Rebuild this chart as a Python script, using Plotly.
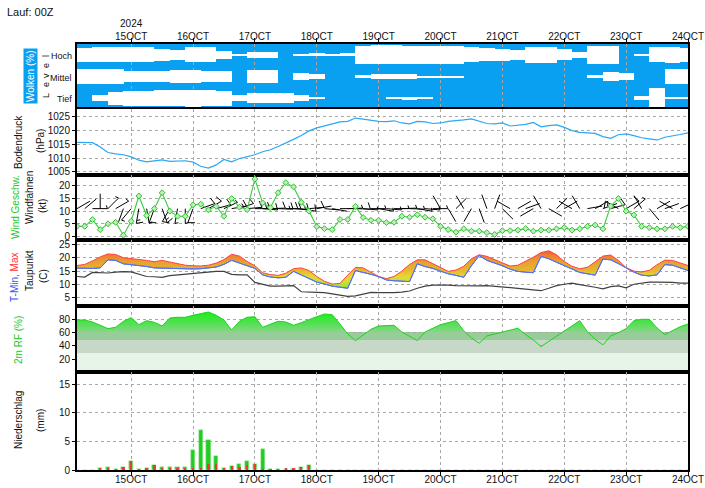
import numpy as np
import pandas as pd
import plotly.graph_objects as go
from plotly.subplots import make_subplots

# ---------------- data ----------------
start = pd.Timestamp("2024-10-14 03:00")
end = pd.Timestamp("2024-10-24 00:00")
times = pd.date_range(start, periods=80, freq="3h")
cloud_times = pd.date_range(start + pd.Timedelta(hours=3), periods=40, freq="6h")

day_ticks = pd.date_range("2024-10-15", "2024-10-24", freq="D")
day_labels = ["15OCT", "16OCT", "17OCT", "18OCT", "19OCT", "20OCT", "21OCT", "22OCT", "23OCT", "24OCT"]
year_label = "2024"

# cloud cover (%) per level, 6-hourly
cloud_high = [35, 30, 30, 30, 30, 45, 55, 30, 30, 60,
              97, 75, 70, 100, 90, 85, 88, 85, 15, 12,
              12, 15, 15, 18, 20, 30, 40, 45, 55, 25,
              25, 50, 75, 15, 20, 100, 90, 30, 25, 35]
cloud_mid = [30, 30, 35, 45, 50, 50, 40, 40, 45, 50,
             100, 40, 40, 100, 65, 75, 100, 100, 90, 75,
             75, 80, 95, 95, 95, 100, 100, 100, 100, 100,
             100, 100, 100, 85, 60, 65, 100, 100, 35, 35]
cloud_low = [100, 75, 40, 30, 30, 25, 25, 20, 25, 30,
             70, 55, 55, 55, 70, 90, 100, 100, 100, 100,
             96, 92, 93, 100, 100, 100, 100, 100, 100, 100,
             100, 100, 100, 100, 100, 100, 80, 10, 90, 90]

pressure = [1015.7, 1015.7, 1015.6, 1014.0, 1012.0, 1011.5, 1011.2, 1010.4, 1009.2, 1008.6,
            1009.0, 1009.3, 1008.8, 1009.0, 1009.0, 1008.5, 1007.0, 1006.3, 1007.5, 1009.5,
            1008.6, 1009.8, 1010.5, 1011.2, 1012.3, 1013.0, 1014.2, 1015.4, 1016.8, 1018.2,
            1019.9, 1021.0, 1021.8, 1022.5, 1023.2, 1023.4, 1024.6, 1024.2, 1023.8, 1023.4,
            1023.3, 1023.6, 1022.8, 1022.5, 1023.4, 1023.2, 1022.6, 1022.8, 1023.4, 1023.6,
            1023.9, 1024.3, 1023.5, 1022.6, 1022.5, 1022.8, 1021.7, 1021.9, 1022.3, 1023.0,
            1021.4, 1021.8, 1022.1, 1021.2, 1020.0, 1019.4, 1019.2, 1019.0, 1017.8, 1017.2,
            1018.5, 1018.8, 1018.2, 1017.4, 1017.0, 1016.6, 1017.6, 1018.0, 1018.6, 1019.2]

wind_speed = [4, 4, 6.7, 2.7, 5, 5.6, 0.5, 6, 16, 8.3,
              11, 17.3, 10, 8, 8, 12.5, 12.8, 10.5, 11.9, 8,
              15, 11.6, 10.6, 22.7, 13.3, 11.4, 17.3, 21.3, 19.6, 13.5,
              10, 3.9, 3.1, 2.7, 6.7, 6.7, 11.9, 7.5, 6.4, 6.4,
              5.5, 5.6, 8, 7.6, 8.6, 7.6, 7, 4, 2.7, 1.7,
              3, 2.1, 2.1, 1.5, 0.8, 2.3, 2.3, 2.5, 3.1, 2.1,
              2.5, 2.5, 3, 3.5, 2.5, 3, 4, 4.5, 3, 12,
              15, 10, 8.5, 4, 3.5, 3, 3, 4, 3.5, 4]

wind_dir = [60, 50, 90, 0, 45, 60, 200,
            220, 190, 170, 200, 160, 210, 190, 180,
            200, 70, 60, 75, 65, 80, 70, 85,
            90, 95, 88, 92, 90, 95, 100, 85, 80, 95, 100, 90,
            88, 92, 95, 90, 100, 95, 90, 88, 92, 100, 95, 90,
            330, 150, 45, 330, 210, 160, 340, 20, 135, 300,
            60, 70, 240, 330, 120, 45, 60, 300, 330, 80,
            60, 70, 75, 300, 60, 50, 330, 140, 60, 70,
            300, 65, 70]

t_max = [17.1, 17.5, 18.8, 20.3, 21.4, 21.2, 20.0, 19.7, 19.3, 19.0,
         18.5, 19.0, 18.4, 17.9, 17.2, 17.0, 16.9, 17.2, 18.0, 19.3,
         21.3, 20.6, 18.6, 17.0, 14.4, 13.7, 13.4, 14.2, 15.9, 16.2,
         15.2, 13.0, 11.2, 10.2, 10.4, 13.5, 16.4, 16.2, 14.5, 13.0,
         12.2, 13.0, 15.0, 17.5, 19.2, 19.2, 17.8, 16.5, 14.9, 15.4,
         16.8, 19.6, 21.1, 20.5, 19.2, 18.0, 16.9, 17.2, 18.6, 20.2,
         21.9, 22.6, 21.1, 18.6, 16.8, 15.9, 16.4, 18.5, 20.6, 21.0,
         19.0, 16.3, 15.0, 14.7, 15.3, 17.4, 19.1, 19.0, 18.1, 17.1]

t_min = [16.1, 16.0, 16.0, 16.2, 19.2, 19.0, 17.7, 17.4, 17.1, 16.7,
         16.2, 16.1, 16.1, 16.0, 15.9, 15.8, 15.9, 16.1, 16.5, 17.5,
         19.0, 18.0, 16.9, 16.0, 13.6, 12.8, 12.5, 12.7, 14.9, 13.5,
         12.0, 10.9, 10.2, 9.4, 9.0, 8.6, 15.2, 14.6, 13.8, 13.0,
         11.7, 11.4, 11.2, 11.1, 17.7, 16.7, 16.0, 15.0, 14.0, 13.4,
         12.7, 17.0, 20.8, 19.0, 18.0, 17.0, 15.7, 14.9, 14.6, 14.4,
         20.5, 19.6, 18.3, 16.9, 15.8, 14.5, 13.9, 13.5, 19.5, 19.2,
         17.8, 16.2, 14.6, 13.5, 13.2, 13.6, 17.4, 17.2, 16.2, 15.2]

dewpoint = [13.0, 12.8, 14.5, 14.3, 14.3, 14.6, 14.8, 14.7, 13.8, 13.0,
            12.9, 12.7, 13.3, 13.6, 13.9, 14.2, 14.5, 14.8, 14.9, 14.9,
            13.8, 13.6, 13.6, 10.8, 10.0, 9.4, 9.4, 9.4, 9.6, 7.3,
            7.1, 7.1, 7.0, 6.6, 6.1, 5.6, 5.8, 6.5, 7.1, 7.0,
            6.9, 7.0, 7.2, 7.6, 8.6, 9.4, 9.8, 9.9, 9.8, 9.6,
            9.5, 9.4, 9.5, 9.6, 9.4, 9.1, 8.9, 8.6, 8.3, 8.0,
            7.7, 8.6, 9.6, 10.1, 10.5, 10.0, 9.6, 9.0, 8.4, 9.2,
            9.5, 8.8, 10.1, 10.5, 10.9, 10.9, 10.9, 10.8, 10.5, 10.5]

rel_hum = [79, 79, 76, 71, 66, 68, 77, 82.5, 72, 78,
           75.5, 70, 82, 83, 83, 86, 88, 91, 86, 79,
           64, 77, 83, 84, 68, 73, 77, 76, 71, 75,
           80, 84, 88, 87, 73, 58, 48, 57, 65, 70,
           71, 71, 61, 54, 48, 61, 67, 72, 75, 78,
           63, 52, 44, 55, 58, 61, 64, 66.6, 57, 49,
           39, 47, 55, 63, 71, 78, 61, 50, 41.5, 55,
           60, 66, 78, 80, 80, 67, 57, 63, 69, 73]

precip_total = [0, 0, 0, 0.4, 0.5, 0.15, 0.6, 1.6, 0.1, 0.3,
                0.9, 0.5, 0.5, 0.6, 0.5, 3.5, 7.0, 5.3, 2.5, 0.4,
                0.7, 1.0, 1.5, 1.0, 3.6, 0.1, 0.1, 0.2, 0.2, 0.5,
                0.8, 0, 0, 0, 0, 0, 0, 0, 0, 0,
                0, 0, 0, 0, 0, 0, 0, 0, 0, 0,
                0, 0, 0, 0, 0, 0, 0, 0, 0, 0,
                0, 0, 0, 0, 0, 0, 0, 0, 0, 0,
                0, 0, 0, 0, 0, 0, 0, 0, 0, 0]
precip_conv = [0, 0, 0, 0.4, 0.3, 0.1, 0.6, 1.5, 0.1, 0.3,
               0.9, 0.3, 0.3, 0.3, 0.3, 0.2, 0.3, 1.1, 1.1, 0.4,
               0.7, 0.6, 0.9, 1.0, 0.1, 0.1, 0.1, 0.2, 0.2, 0.5,
               0.8, 0, 0, 0, 0, 0, 0, 0, 0, 0,
               0, 0, 0, 0, 0, 0, 0, 0, 0, 0,
               0, 0, 0, 0, 0, 0, 0, 0, 0, 0,
               0, 0, 0, 0, 0, 0, 0, 0, 0, 0,
               0, 0, 0, 0, 0, 0, 0, 0, 0, 0]

# ---------------- styling ----------------
FONT = "Liberation Sans"
CLOUD_BLUE = "#0aa0f2"
GRID = "#a8a8a8"
GREEN = "#22c822"

fig = make_subplots(rows=6, cols=1, shared_xaxes=True, vertical_spacing=0,
                    row_heights=[65, 66, 65, 66, 66, 98])

# ---- clouds ----
fig.add_shape(type="rect", xref="x domain", yref="y domain", x0=0, x1=1, y0=0, y1=1,
              fillcolor=CLOUD_BLUE, line_width=0, layer="below", row=1, col=1)
for k, cc in enumerate([cloud_low, cloud_mid, cloud_high]):
    clear = [(100 - c) / 100.0 for c in cc]
    base = [k + 0.5 - c / 2 for c in clear]
    fig.add_trace(go.Bar(x=cloud_times, y=clear, base=base, width=6.1 * 3600 * 1000,
                         marker=dict(color="white", line_width=0), hoverinfo="skip"),
                  row=1, col=1)

# ---- pressure ----
fig.add_trace(go.Scatter(x=times, y=pressure, mode="lines",
                         line=dict(color="#2aa8f5", width=1.2)), row=2, col=1)

# ---- wind barbs ----
PX_PER_H = 611.0 / 237.0
PX_PER_KT = 65.0 / 25.6
BARB_Y = 11.0


def barb(t, spd, ddeg):
    L, F, S = 15.0, 7.0, 3.0
    th = np.radians(ddeg)
    ux, uy = np.sin(th), np.cos(th)
    a = np.radians(110)
    fx = ux * np.cos(a) - uy * np.sin(a)
    fy = ux * np.sin(a) + uy * np.cos(a)
    segs = [((0.0, 0.0), (ux * L, uy * L))]
    pos = L
    n10 = int(spd // 10)
    n5 = int((spd - n10 * 10) // 5)
    for _ in range(n10):
        bx, by = ux * pos, uy * pos
        segs.append(((bx, by), (bx + fx * F, by + fy * F)))
        pos -= S
    for _ in range(n5):
        bx, by = ux * pos, uy * pos
        segs.append(((bx, by), (bx + fx * F / 2, by + fy * F / 2)))
        pos -= S
    xs, ys = [], []
    for seg in segs:
        for (px_, py_) in seg:
            xs.append(t + pd.Timedelta(hours=px_ / PX_PER_H))
            ys.append(BARB_Y + py_ / PX_PER_KT)
        xs.append(None)
        ys.append(None)
    return xs, ys


bx_all, by_all = [], []
for t, s, d in zip(times, wind_speed, wind_dir):
    xs, ys = barb(t, s, d)
    bx_all += xs
    by_all += ys
fig.add_trace(go.Scatter(x=bx_all, y=by_all, mode="lines",
                         line=dict(color="black", width=1), hoverinfo="skip"), row=3, col=1)
fig.add_trace(go.Scatter(x=times, y=wind_speed, mode="lines+markers",
                         line=dict(color="#3ccc3c", width=1.1),
                         marker=dict(symbol="diamond", size=4.5, color="#b8f0b8",
                                     line=dict(color="#30c030", width=1))), row=3, col=1)

# ---- temperature ----
fig.add_trace(go.Scatter(x=times, y=t_min, mode="lines",
                         line=dict(color="#5070ff", width=1)), row=4, col=1)
fig.add_trace(go.Scatter(x=times, y=t_max, mode="lines", fill="tonexty",
                         fillgradient=dict(type="vertical", start=8, stop=23,
                                           colorscale=[[0.0, "#80e040"], [0.18, "#c8e030"],
                                                       [0.33, "#e6d830"], [0.5, "#e8b430"],
                                                       [0.7, "#e8a030"], [0.85, "#ee8030"],
                                                       [1.0, "#f05030"]]),
                         line=dict(color="#ff4040", width=1)), row=4, col=1)
fig.add_trace(go.Scatter(x=times, y=t_min, mode="lines",
                         line=dict(color="#5070ff", width=1)), row=4, col=1)
fig.add_trace(go.Scatter(x=times, y=dewpoint, mode="lines",
                         line=dict(color="#404040", width=1.2)), row=4, col=1)

# ---- relative humidity ----
for y0, y1, c in [(0, 29, "#e8f4e8"), (29, 49, "#c8d8c8"), (49, 61, "#98cc98")]:
    fig.add_shape(type="rect", xref="x5 domain", yref="y5", x0=0, x1=1, y0=y0, y1=y1,
                  fillcolor=c, line_width=0, layer="below")
fig.add_trace(go.Scatter(x=times, y=rel_hum, mode="lines", fill="tozeroy",
                         fillgradient=dict(type="vertical", start=0, stop=100,
                                           colorscale=[[0.0, "#e8f4e8"], [0.29, "#e8f4e8"],
                                                       [0.2901, "#c8d8c8"], [0.49, "#c8d8c8"],
                                                       [0.4901, "#98cc98"], [0.61, "#98cc98"],
                                                       [0.6101, "#84d884"], [0.75, "#50e050"],
                                                       [0.9, "#18f018"], [1.0, "#00ff00"]]),
                         line=dict(color="#20d020", width=1)), row=5, col=1)

# ---- precipitation ----
fig.add_trace(go.Bar(x=times, y=precip_total, width=1.6 * 3600 * 1000,
                     marker=dict(color="#22cc22", line=dict(color="#a8e8a8", width=0.5))),
              row=6, col=1)
fig.add_trace(go.Bar(x=times, y=precip_conv, width=0.9 * 3600 * 1000,
                     marker=dict(color="#f03a30", line_width=0)), row=6, col=1)

# ---------------- axes ----------------
tick_font = dict(family=FONT, size=10, color="#111111")
for r in range(1, 7):
    fig.update_xaxes(range=[start, end], tickvals=day_ticks, ticktext=day_labels,
                     showgrid=True, gridcolor=GRID, griddash="dot", gridwidth=1,
                     showline=True, linecolor="black", linewidth=2, mirror=True,
                     ticks="", showticklabels=False, tickfont=tick_font,
                     automargin=False, row=r, col=1)
top_labels = [year_label + "<br>" + day_labels[0]] + day_labels[1:]
bot_labels = [day_labels[0] + "<br>" + year_label] + day_labels[1:]
fig.update_xaxes(showticklabels=True, side="top", ticktext=top_labels, ticks="outside",
                 ticklen=4, tickcolor="black", ticklabelstandoff=-6, row=1, col=1)
fig.update_xaxes(showticklabels=True, ticktext=bot_labels, ticks="outside",
                 ticklen=4, tickcolor="black", ticklabelstandoff=-5, row=6, col=1)

yopts = dict(showline=True, linecolor="black", linewidth=2, mirror=True,
             ticks="outside", ticklen=3, tickcolor="black", tickfont=tick_font,
             showgrid=True, gridcolor=GRID, griddash="dot", zeroline=False,
             automargin=False)
fig.update_yaxes(range=[0, 3], showticklabels=False, showgrid=False, showline=True,
                 linecolor="black", linewidth=2, mirror=True, ticks="", zeroline=False,
                 automargin=False, row=1, col=1)
fig.update_yaxes(range=[1003.8, 1027.9], tickvals=[1005, 1010, 1015, 1020, 1025], **yopts, row=2, col=1)
fig.update_yaxes(range=[-1.4, 24.3], tickvals=[0, 5, 10, 15, 20], **yopts, row=3, col=1)
fig.update_yaxes(range=[2.0, 26.6], tickvals=[5, 10, 15, 20, 25], **yopts, row=4, col=1)
fig.update_yaxes(range=[0.8, 100], tickvals=[20, 40, 60, 80], **yopts, row=5, col=1)
fig.update_yaxes(range=[0, 17.1], tickvals=[0, 5, 10, 15], **yopts, row=6, col=1)

# ---------------- labels ----------------
W, L0 = 611.0, 77.0
H, B0 = 426.0, 470.0


def px(x):
    return (x - L0) / W


def py(y):
    return (B0 - y) / H


ann = []


def label(text, x, y, color="#111111", angle=-90, size=10, bg=None, xanchor="center"):
    ann.append(dict(text=text, x=px(x), y=py(y), xref="paper", yref="paper",
                    showarrow=False, textangle=angle, xanchor=xanchor, yanchor="middle",
                    font=dict(family=FONT, size=size, color=color),
                    bgcolor=bg, borderpad=1))


label("Lauf: 00Z", 5, 12, angle=0, size=11, xanchor="left")
label("Wolken (%)", 31, 76, color="white", bg=CLOUD_BLUE)
for ch, yy in zip(["L", "e", "v", "e", "l"], [96, 85, 76, 66, 56]):
    label(ch, 46, yy, size=9)
label("Hoch", 74, 56, angle=0, size=9, xanchor="right")
label("Mittel", 74, 78, angle=0, size=9, xanchor="right")
label("Tief", 74, 99, angle=0, size=9, xanchor="right")
label("Bodendruck", 18, 142)
label("(hPa)", 40, 141)
label("Wind Geschw.", 15, 207, color=GREEN)
label("Windfahnen", 29, 198)
label("(kt)", 42, 206)
label("<span style='color:#3050ff'>T-Min, </span><span style='color:#ff3030'>Max</span>", 14, 278)
label("Taupunkt", 29, 271)
label("(C)", 43, 276)
label("2m RF (%)", 18, 340, color=GREEN)
label("Niederschlag", 18, 420)
label("(mm)", 40, 421)

fig.update_layout(width=705, height=488, margin=dict(l=77, r=17, t=44, b=18),
                  paper_bgcolor="white", plot_bgcolor="white", showlegend=False,
                  barmode="overlay", bargap=0, annotations=ann,
                  font=dict(family=FONT, size=10, color="#111111"))

fig.write_html("out.html", config={"displayModeBar": False},
               post_script="document.body.style.margin='0';")
